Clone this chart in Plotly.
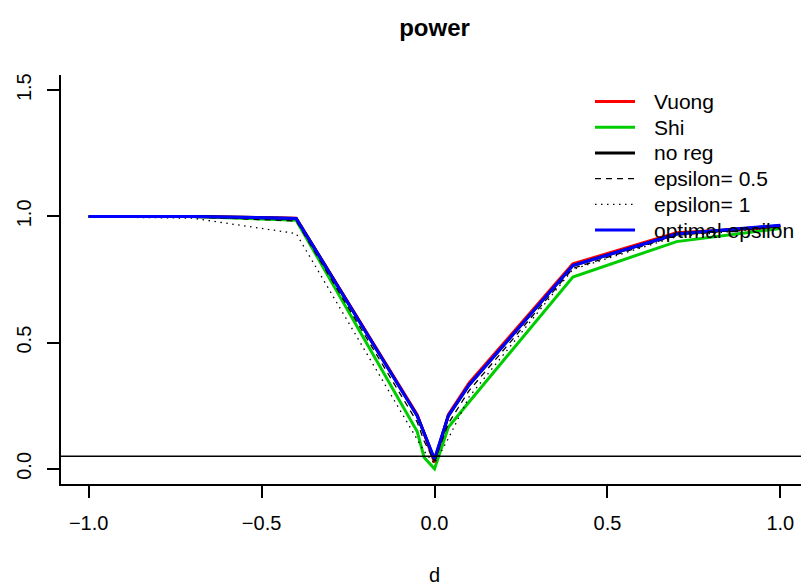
import plotly.graph_objects as go

# ---- data ----
d = [-1.0, -0.7, -0.4, -0.05, -0.03, 0.0, 0.04, 0.1, 0.4, 0.7, 1.0]
vuong = [1.000, 1.000, 0.993, 0.215, 0.140, 0.025, 0.215, 0.340, 0.812, 0.935, 0.958]
shi = [1.000, 1.000, 0.985, 0.148, 0.045, 0.000, 0.165, 0.265, 0.760, 0.900, 0.952]
no_reg = [1.000, 1.000, 0.992, 0.210, 0.142, 0.035, 0.210, 0.332, 0.805, 0.930, 0.963]
eps_05 = [1.000, 0.998, 0.982, 0.185, 0.110, 0.030, 0.180, 0.310, 0.794, 0.925, 0.960]
eps_1 = [0.998, 0.993, 0.932, 0.115, 0.070, 0.020, 0.120, 0.285, 0.790, 0.920, 0.958]
optimal = [1.000, 1.000, 0.992, 0.210, 0.142, 0.040, 0.210, 0.332, 0.805, 0.930, 0.965]

x_ticks = [-1.0, -0.5, 0.0, 0.5, 1.0]
x_ticklabels = ["\u22121.0", "\u22120.5", "0.0", "0.5", "1.0"]
y_ticks = [0.0, 0.5, 1.0, 1.5]
y_ticklabels = ["0.0", "0.5", "1.0", "1.5"]
ref_level = 0.05

FONT = "Liberation Sans, Arial, Helvetica, sans-serif"
OFF = 8  # page body margin
W, H = 809 - OFF, 586 - OFF
ML, MR, MT, MB = 61 - OFF, 1, 75 - OFF, 102

series = [
    ("Vuong", vuong, dict(color="#FF0000", width=3)),
    ("Shi", shi, dict(color="#00CD00", width=3)),
    ("no reg", no_reg, dict(color="#000000", width=3)),
    ("epsilon= 0.5", eps_05, dict(color="#000000", width=1.3, dash="6px,5px")),
    ("epsilon= 1", eps_1, dict(color="#000000", width=1.3, dash="1.5px,4.5px")),
    ("optimal epsilon", optimal, dict(color="#0000FF", width=3)),
]

fig = go.Figure()
for name, ys, line in series:
    fig.add_trace(go.Scatter(x=d, y=ys, mode="lines", name=name, line=line, showlegend=False))

fig.add_shape(type="line", xref="paper", x0=0, x1=1, yref="y", y0=ref_level, y1=ref_level,
              line=dict(color="black", width=1.5))

# ---- legend (R-style, no box), drawn in paper coordinates (window pixels) ----
pw, ph = W - ML - MR, H - MT - MB
def px_x(p):
    return (p - OFF - ML) / pw
def px_y(p):
    return 1 - (p - OFF - MT) / ph

leg_top, leg_step = 101.5, 25.7
for i, (name, ys, line) in enumerate(series):
    yy = px_y(leg_top + i * leg_step)
    fig.add_shape(type="line", xref="paper", yref="paper",
                  x0=px_x(595), x1=px_x(635), y0=yy, y1=yy,
                  line=line)
    fig.add_annotation(text=name, xref="paper", yref="paper", x=px_x(652), y=yy,
                       xanchor="left", yanchor="middle", showarrow=False,
                       font=dict(family=FONT, size=21, color="black"))

fig.update_layout(
    width=W, height=H,
    margin=dict(l=ML, r=MR, t=MT, b=MB, autoexpand=False),
    paper_bgcolor="white", plot_bgcolor="white",
    font=dict(family=FONT, size=20, color="black"),
    title=dict(text="<b>power</b>", x=0.5, xref="paper", xanchor="center",
               y=1 - (28 - OFF) / H, yref="container", yanchor="middle", automargin=False,
               font=dict(family=FONT, size=24, color="black")),
    showlegend=False,
    xaxis=dict(range=[-1.08, 1.08], tickvals=x_ticks, ticktext=x_ticklabels,
               showgrid=False, zeroline=False, showline=True, linecolor="black", linewidth=1.5,
               ticks="outside", ticklen=12, tickwidth=1.5, tickcolor="black",
               ticklabelstandoff=8, automargin=False,
               title=dict(text="d", standoff=36, font=dict(family=FONT, size=20))),
    yaxis=dict(range=[-0.06, 1.56], tickvals=y_ticks, ticktext=y_ticklabels,
               showgrid=False, zeroline=False, showline=True, linecolor="black", linewidth=1.5,
               ticks="outside", ticklen=12, tickwidth=1.5, tickcolor="black",
               tickangle=-90, ticklabelstandoff=8, automargin=False),
)

fig.write_html("out.html")
